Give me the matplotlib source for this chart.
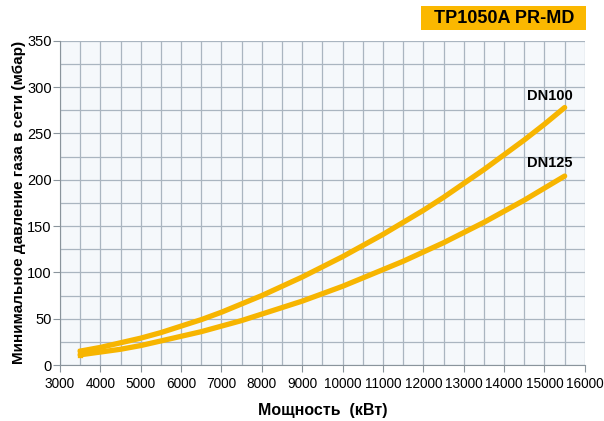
import matplotlib.pyplot as plt
from matplotlib.patches import Rectangle
from matplotlib.ticker import MultipleLocator

power = [3500, 4000, 4500, 5000, 5500, 6000, 6500, 7000, 7500, 8000, 8500, 9000, 9500, 10000,
         10500, 11000, 11500, 12000, 12500, 13000, 13500, 14000, 14500, 15000, 15500]
dn100 = [15, 19, 24, 29, 35, 42, 49, 57, 66, 75, 85, 95, 106, 117,
         129, 141, 154, 167, 181, 196, 211, 227, 243, 260, 278]
dn125 = [11, 14, 17, 21, 26, 31, 36, 42, 48, 55, 62, 69, 77, 85,
         94, 103, 112, 122, 132, 143, 154, 166, 178, 191, 204]

plt.rcParams['font.family'] = ['Liberation Sans', 'DejaVu Sans']

yellow = '#f7b500'
fig = plt.figure(figsize=(6.04, 4.21), dpi=100)
ax = fig.add_axes([0.0993, 0.133, 0.869, 0.770])
ax.set_facecolor('#f5f8fb')

ax.plot(power, dn100, color=yellow, lw=3.8, solid_capstyle='round', solid_joinstyle='round', zorder=3)
ax.plot(power, dn125, color=yellow, lw=3.8, solid_capstyle='round', solid_joinstyle='round', zorder=3)
# joining stroke at the start of the curves
ax.plot([power[0], power[0]], [dn125[0], dn100[0]], color=yellow, lw=3.8, zorder=3)

ax.text(15130, 290, 'DN100', ha='center', va='center', fontsize=10.5, fontweight='bold')
ax.text(15130, 218, 'DN125', ha='center', va='center', fontsize=10.5, fontweight='bold')

ax.set_xlim(3000, 16000)
ax.set_ylim(0, 350)
ax.xaxis.set_major_locator(MultipleLocator(1000))
ax.xaxis.set_minor_locator(MultipleLocator(500))
ax.yaxis.set_major_locator(MultipleLocator(50))
ax.yaxis.set_minor_locator(MultipleLocator(25))
ax.grid(which='both', color='#aab5c0', lw=0.9)
ax.set_axisbelow(True)

for s in ['top', 'right']:
    ax.spines[s].set_visible(False)
for s in ['left', 'bottom']:
    ax.spines[s].set_color('#8a949c')
ax.tick_params(which='major', direction='out', length=5, color='#8a949c', labelsize=10.5)
ax.tick_params(axis='x', labelsize=9.8)
ax.tick_params(axis='y', pad=1)
ax.tick_params(which='minor', length=0)

ax.set_xlabel('Мощность  (кВт)', fontsize=11.5, fontweight='bold', labelpad=9)
ax.set_ylabel('Минимальное давление газа в сети (мбар)', fontsize=11, fontweight='bold', labelpad=1)

fig.patches.append(Rectangle((421 / 604, 1 - 30 / 421), 165 / 604, 24 / 421,
                             transform=fig.transFigure, fc='#fbb800', ec='none'))
fig.text(504 / 604, 1 - 18.5 / 421, 'TP1050A PR-MD', ha='center', va='center',
         fontsize=13, fontweight='bold')

plt.savefig('out.png', dpi=100)
